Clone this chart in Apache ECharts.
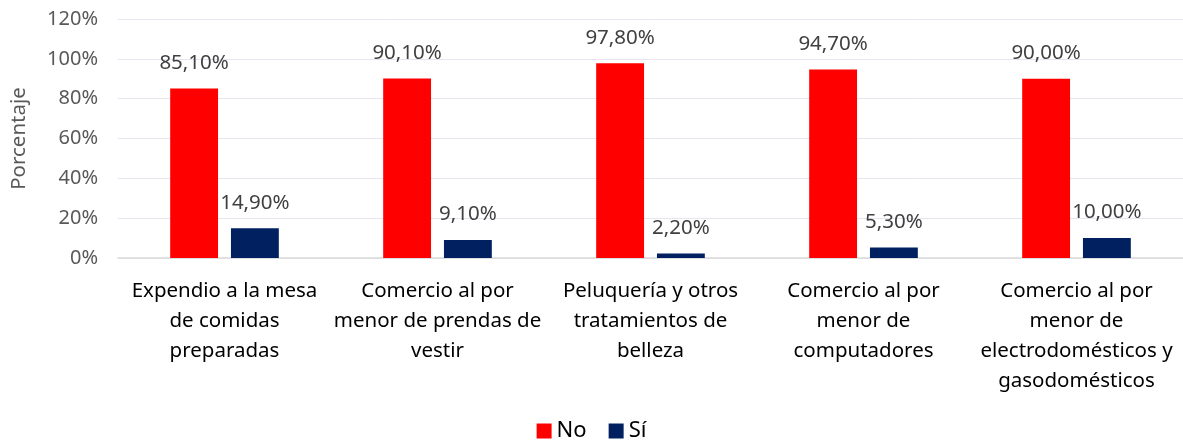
<!DOCTYPE html>
<html>
<head>
<meta charset="utf-8">
<script src="https://cdn.jsdelivr.net/npm/echarts@6/dist/echarts.min.js"></script>
<style>
    html, body { margin: 0; padding: 0; background: #fff; }
    #chart { width: 1183px; height: 443px; }
</style>
</head>
<body>
<div id="chart"></div>
<script>
const categories = [
    'Expendio a la mesa\nde comidas\npreparadas',
    'Comercio al por\nmenor de prendas de\nvestir',
    'Peluquería y otros\ntratamientos de\nbelleza',
    'Comercio al por\nmenor de\ncomputadores',
    'Comercio al por\nmenor de\nelectrodomésticos y\ngasodomésticos',
];
const noValues = [85.1, 90.1, 97.8, 94.7, 90.0];
const siValues = [14.9, 9.1, 2.2, 5.3, 10.0];

const font = 'Noto Sans, sans-serif';
const fmt = p => p.value.toFixed(2).replace('.', ',') + '%';

const labelStyle = {
    show: true,
    position: 'top',
    distance: 15,
    formatter: fmt,
    color: '#404040',
    fontSize: 20.5,
    fontFamily: font,
};

const chart = echarts.init(document.getElementById('chart'));
chart.setOption({
    animation: false,
    grid: {left: 118, right: -2, top: 19, bottom: 185},
    legend: {
        bottom: -4,
        left: 'center',
        itemWidth: 15,
        itemHeight: 15,
        itemGap: 22,
        icon: 'rect',
        textStyle: {fontSize: 22, color: '#000', fontFamily: font},
        data: ['No', 'Sí'],
    },
    xAxis: {
        type: 'category',
        data: categories,
        axisLine: {lineStyle: {color: '#d9d9d9', width: 1.5}},
        axisTick: {show: false},
        axisLabel: {
            interval: 0,
            color: '#000',
            fontSize: 20.5,
            fontFamily: font,
            lineHeight: 30,
            margin: 18,
        },
    },
    yAxis: {
        type: 'value',
        min: 0,
        max: 120,
        interval: 20,
        name: 'Porcentaje',
        nameLocation: 'middle',
        nameGap: 88,
        nameTextStyle: {fontSize: 20.5, color: '#595959', fontFamily: font},
        axisLabel: {
            formatter: '{value}%',
            color: '#595959',
            fontSize: 20,
            fontFamily: font,
            margin: 20,
        },
        splitLine: {lineStyle: {color: '#e8e4f0', width: 1}},
        axisLine: {show: false},
        axisTick: {show: false},
    },
    series: [
        {
            name: 'No',
            type: 'bar',
            data: noValues,
            itemStyle: {color: '#ff0000'},
            barGap: '27%',
            barCategoryGap: '49%',
            label: labelStyle,
        },
        {
            name: 'Sí',
            type: 'bar',
            data: siValues,
            itemStyle: {color: '#002060'},
            label: labelStyle,
        },
    ],
});
</script>
</body>
</html>
